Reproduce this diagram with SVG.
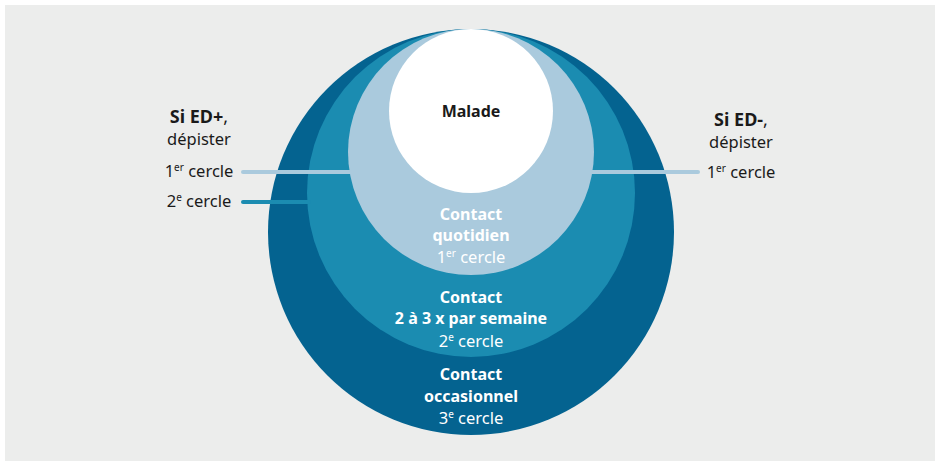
<svg xmlns="http://www.w3.org/2000/svg" width="938" height="461" viewBox="0 0 938 461">
<style>
text{font-family:"Noto Sans","Open Sans",sans-serif;text-anchor:middle;}
.b{font-weight:bold;font-size:16px;}
.n{font-size:16.5px;}
.dk{fill:#1a1a1a;}
.w{fill:#ffffff;}
.sup{font-size:10px;}
.l1{stroke:#aacadd;stroke-width:4;stroke-linecap:round;fill:none;}
.l2{stroke:#1b8cb1;stroke-width:4;stroke-linecap:round;fill:none;}
</style>
<rect x="5" y="5" width="930" height="456" fill="#ecedec"/>
<g id="cercle3"><circle cx="471" cy="232" r="203" fill="#046390"/></g>
<g id="cercle2"><circle cx="471" cy="193" r="164" fill="#1b8cb1"/></g>
<g id="connectors">
<line class="l1" x1="243" y1="172" x2="350" y2="172"/>
<line class="l2" x1="243" y1="202" x2="309" y2="202"/>
<line class="l1" x1="592" y1="172" x2="698" y2="172"/>
</g>
<g id="cercle1"><circle cx="471" cy="152" r="123" fill="#aacadd"/></g>
<g id="malade"><circle cx="471" cy="111" r="82" fill="#ffffff"/>
<text class="b dk" x="471" y="117">Malade</text></g>
<g id="label1">
<text class="b w" x="471" y="220">Contact</text>
<text class="b w" x="471" y="241">quotidien</text>
<text class="n w" x="471" y="263">1<tspan class="sup" dy="-6">er</tspan><tspan dy="6"> cercle</tspan></text>
</g>
<g id="label2">
<text class="b w" x="471" y="303">Contact</text>
<text class="b w" x="471" y="324">2 à 3 x par semaine</text>
<text class="n w" x="471" y="347">2<tspan class="sup" dy="-6">e</tspan><tspan dy="6"> cercle</tspan></text>
</g>
<g id="label3">
<text class="b w" x="471" y="380">Contact</text>
<text class="b w" x="471" y="402">occasionnel</text>
<text class="n w" x="471" y="424">3<tspan class="sup" dy="-6">e</tspan><tspan dy="6"> cercle</tspan></text>
</g>
<g id="gauche">
<text class="dk" x="199" y="123" style="font-size:18px"><tspan font-weight="bold">Si ED+</tspan>,</text>
<text class="n dk" x="199" y="145">dépister</text>
<text class="n dk" x="199" y="177">1<tspan class="sup" dy="-6">er</tspan><tspan dy="6"> cercle</tspan></text>
<text class="n dk" x="199" y="207">2<tspan class="sup" dy="-6">e</tspan><tspan dy="6"> cercle</tspan></text>
</g>
<g id="droite">
<text class="dk" x="741" y="126" style="font-size:18px"><tspan font-weight="bold">Si ED-</tspan>,</text>
<text class="n dk" x="741" y="148">dépister</text>
<text class="n dk" x="741" y="178">1<tspan class="sup" dy="-6">er</tspan><tspan dy="6"> cercle</tspan></text>
</g>
</svg>
